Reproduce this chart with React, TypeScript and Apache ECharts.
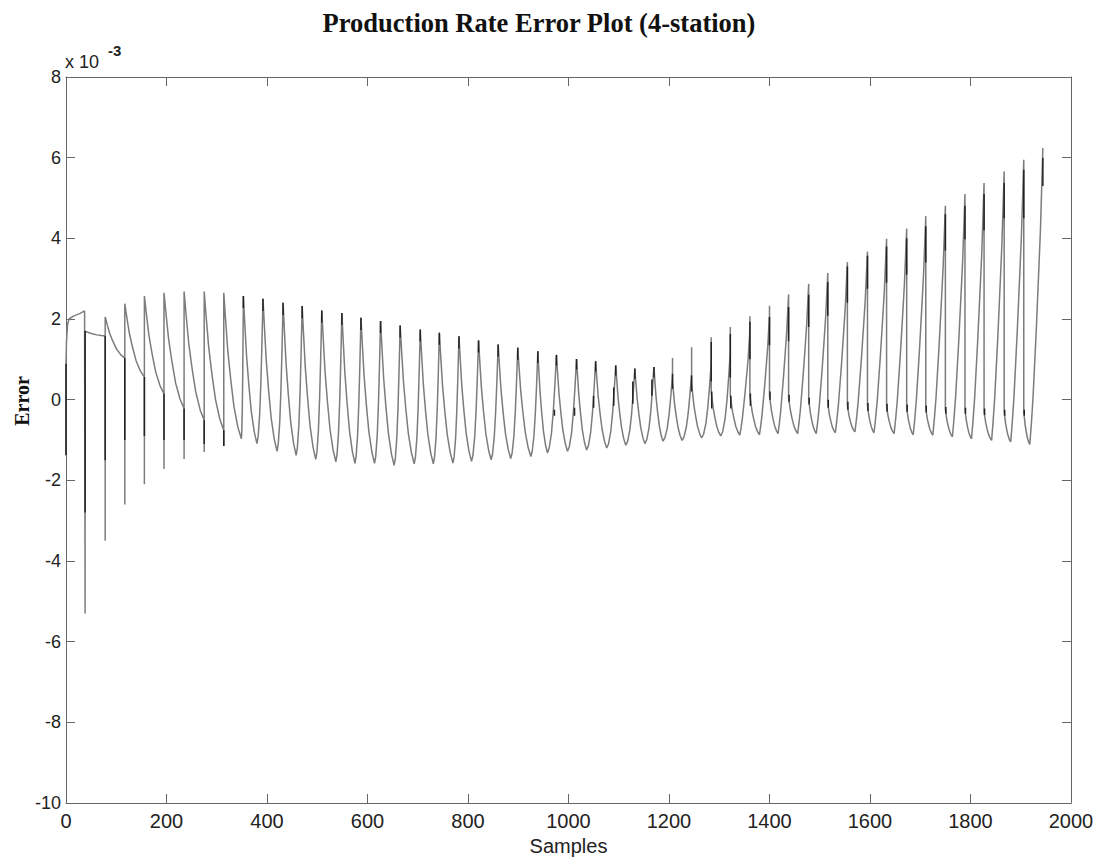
import React, { useEffect, useRef } from "react";
import * as echarts from "echarts";

// Axis ticks (values on the y axis are in units of 1e-3)
const xTicks = [0, 200, 400, 600, 800, 1000, 1200, 1400, 1600, 1800, 2000];
const yTicks = [-10, -8, -6, -4, -2, 0, 2, 4, 6, 8];

// First samples (start-up transient), [sample, error x1e-3]
const startupPoints: [number, number][] = [
  [0, 0.89], [0, -1.38], [0, 0.89], [1, 1.45], [3, 1.85], [6, 2.0],
  [15, 2.07], [28, 2.14], [37, 2.2],
];

// One entry per cycle (cycles 1..50)
const peakPos = [
  38, 78, 117, 156, 195, 235, 275, 314, 353, 392,
  432, 470, 509, 549, 587, 626, 665, 705, 743, 782,
  821, 860, 899, 939, 976, 1016, 1054, 1094, 1132, 1170,
  1207, 1245, 1284, 1322, 1361, 1400, 1438, 1478, 1516, 1555,
  1595, 1633, 1673, 1711, 1750, 1789, 1827, 1867, 1906, 1944,
];
const riseLen = [
  0, 0, 0, 0, 0, 0, 0, 0, 4, 12,
  12, 12, 12, 12, 12, 12, 12, 12, 12, 12,
  14, 14, 14, 14, 18, 18, 18, 18, 18, 18,
  19, 19, 19, 19, 20, 20, 21, 22, 23, 24,
  25, 25, 25, 25, 25, 25, 25, 25, 26, 26,
];
// value reached at the end of the rise (at the peak sample)
const jumpFrom = [
  2.21, 1.58, 1.03, 0.56, 0.15, -0.22, -0.51, -0.76, 2.57, 2.5,
  2.4, 2.32, 2.21, 2.15, 2.03, 1.95, 1.84, 1.74, 1.66, 1.57,
  1.47, 1.37, 1.29, 1.2, 1.11, 1.01, 0.95, 0.85, 0.77, 0.81,
  0.6, 0.65, 0.9, 1.2, 1.7, 2.1, 2.61, 2.87, 3.14, 3.41,
  3.67, 3.99, 4.24, 4.55, 4.81, 5.1, 5.37, 5.66, 5.95, 6.24,
];
// extreme value of the vertical spike at the peak sample
const jumpVia = [
  -5.3, -3.5, -2.6, -2.1, -1.72, -1.47, -1.3, -1.15, 2.57, 2.5,
  2.4, 2.32, 2.21, 2.15, 2.03, 1.95, 1.84, 1.74, 1.66, 1.57,
  1.47, 1.37, 1.29, 1.2, 1.11, 1.01, 0.95, 0.85, 0.77, 0.81,
  1.03, 1.3, 1.55, 1.8, 2.07, 2.33, 2.61, 2.87, 3.14, 3.41,
  3.67, 3.99, 4.24, 4.55, 4.81, 5.1, 5.37, 5.66, 5.95, 6.24,
];
// value where the decay starts
const jumpTo = [
  1.7, 2.05, 2.38, 2.57, 2.65, 2.68, 2.68, 2.65, 2.57, 2.5,
  2.4, 2.32, 2.21, 2.15, 2.03, 1.95, 1.84, 1.74, 1.66, 1.57,
  1.47, 1.37, 1.29, 1.2, 1.11, 1.01, 0.95, 0.85, 0.77, 0.81,
  0.45, 0.4, 0.2, 0.1, 0.1, 0.1, 0.05, 0.0, -0.1, -0.15,
  -0.15, -0.17, -0.2, -0.22, -0.25, -0.25, -0.3, -0.3, -0.3, 6.24,
];
// trough reached after each cycle (cycles 1..49)
const troughAfter = [
  1.58, 1.03, 0.56, 0.15, -0.22, -0.51, -0.76, -0.97, -1.09, -1.28,
  -1.38, -1.48, -1.54, -1.58, -1.58, -1.63, -1.59, -1.59, -1.57, -1.53,
  -1.49, -1.46, -1.41, -1.32, -1.28, -1.25, -1.2, -1.13, -1.09, -1.03,
  -1.01, -0.95, -0.9, -0.88, -0.87, -0.84, -0.84, -0.84, -0.82, -0.8,
  -0.82, -0.84, -0.87, -0.88, -0.92, -0.97, -1.01, -1.05, -1.11,
];
// darker (overdrawn) stretch of each spike, cycles 0..50
const darkLow = [
  -1.38, -2.8, -1.5, -1.0, -0.9, -1.0, -1.0, -1.1, -1.15, 2.27,
  2.2, 2.1, 2.02, 1.91, 1.85, 1.73, 1.65, 1.54, 1.44, 1.36,
  1.27, 1.17, 1.07, 0.99, 0.9, 0.85, 0.75, 0.7, 0.6, 0.52,
  0.55, 0.27, 0.2, 0.45, 0.55, 1.0, 1.35, 1.45, 1.8, 2.08,
  2.4, 2.75, 2.9, 3.1, 3.4, 3.7, 3.98, 4.2, 4.5, 4.5, 5.3,
];
const darkHigh = [
  0.89, 1.7, 1.58, 1.03, 0.56, 0.15, -0.22, -0.51, -0.76, 2.57,
  2.5, 2.4, 2.32, 2.21, 2.15, 2.03, 1.95, 1.84, 1.74, 1.66,
  1.57, 1.47, 1.37, 1.29, 1.2, 1.11, 1.01, 0.95, 0.85, 0.77,
  0.81, 0.64, 0.6, 1.43, 1.63, 1.93, 2.05, 2.3, 2.6, 2.92,
  3.3, 3.57, 3.8, 4.0, 4.3, 4.6, 4.81, 5.1, 5.37, 5.7, 6.0,
];
// small dark marks on the edges of later cycles
const blobPos = [
  972, 1012, 1050, 1090, 1128, 1166, 1285, 1323, 1362, 1401,
  1439, 1479, 1517, 1556, 1596, 1634, 1674, 1712, 1751, 1790,
  1828, 1868, 1907,
];
const blobLow = [
  -0.4, -0.4, -0.2, -0.15, -0.1, 0.1, -0.22, -0.22, -0.15, 0.0,
  -0.05, -0.12, -0.2, -0.25, -0.28, -0.3, -0.3, -0.32, -0.35, -0.35,
  -0.38, -0.4, -0.4,
];
const blobHigh = [
  -0.25, -0.2, 0.1, 0.3, 0.45, 0.5, 0.2, 0.1, 0.15, 0.2,
  0.12, 0.05, 0.0, -0.05, -0.08, -0.1, -0.12, -0.15, -0.18, -0.2,
  -0.22, -0.25, -0.25,
];

const riseSteepF = [0.2, 0.45, 0.65, 0.82];
const riseSteepG = [0.05, 0.2, 0.42, 0.68];
const riseLinF = [0.12, 0.25, 0.5, 0.7, 0.82];
const riseLinG = [0.07, 0.16, 0.39, 0.6, 0.73];
const decayF = [0.1, 0.23, 0.4, 0.58, 0.8, 1];
const decayG = [0.82, 0.6, 0.4, 0.22, 0.08, 0];

function buildLine() {
  const pts: (number | string)[][] = startupPoints.map((p) => [p[0], p[1]]);
  let prevT = startupPoints[startupPoints.length - 1][1];
  for (let k = 0; k < peakPos.length; k++) {
    const p = peakPos[k];
    const r = riseLen[k];
    if (r > 0) {
      const t0 = p - r;
      const lin = k >= 34;
      const F = lin ? riseLinF : riseSteepF;
      const G = lin ? riseLinG : riseSteepG;
      for (let i = 0; i < F.length; i++) {
        pts.push([t0 + F[i] * r, prevT + G[i] * (jumpFrom[k] - prevT)]);
      }
    }
    pts.push([p, jumpFrom[k]], [p, jumpVia[k]], [p, jumpTo[k]]);
    if (k < troughAfter.length) {
      const tNext = peakPos[k + 1] - riseLen[k + 1];
      const d = tNext - p;
      for (let i = 0; i < decayF.length; i++) {
        pts.push([p + decayF[i] * d, troughAfter[k] + decayG[i] * (jumpTo[k] - troughAfter[k])]);
      }
      prevT = troughAfter[k];
    }
  }
  return pts;
}

function buildDark() {
  const pts: (number | string)[][] = [];
  const pos = [0, ...peakPos];
  for (let i = 0; i < pos.length; i++) {
    pts.push([pos[i], darkLow[i]], [pos[i], darkHigh[i]], [pos[i], "-"]);
  }
  for (let i = 0; i < blobPos.length; i++) {
    pts.push([blobPos[i], blobLow[i]], [blobPos[i], blobHigh[i]], [blobPos[i], "-"]);
  }
  return pts;
}

export default function App() {
  const ref = useRef<HTMLDivElement>(null);
  useEffect(() => {
    const chart = echarts.init(ref.current!, null, { renderer: "svg" });
    const axisColor = "#666";
    const sans = "Liberation Sans, Arial, sans-serif";
    const serif = "Liberation Serif, Times New Roman, serif";
    chart.setOption({
      animation: false,
      backgroundColor: "#fff",
      grid: { left: 66, right: 37, top: 77, bottom: 56, containLabel: false },
      graphic: [
        {
          type: "text",
          x: 539,
          y: 23,
          style: {
            text: "Production Rate Error Plot (4-station)",
            font: `bold 26.5px ${serif}`,
            fill: "#111",
            textAlign: "center",
            textVerticalAlign: "middle",
          },
        },
        {
          type: "text",
          x: 22,
          y: 401,
          rotation: Math.PI / 2,
          style: {
            text: "Error",
            font: `bold 20px ${serif}`,
            fill: "#111",
            textAlign: "center",
            textVerticalAlign: "middle",
          },
        },
        {
          type: "text",
          x: 65,
          y: 62,
          style: {
            text: "x 10",
            font: `18px ${sans}`,
            fill: "#222",
            textAlign: "left",
            textVerticalAlign: "middle",
          },
        },
        {
          type: "text",
          x: 108,
          y: 50,
          style: {
            text: "-3",
            font: `bold 15px ${sans}`,
            fill: "#222",
            textAlign: "left",
            textVerticalAlign: "middle",
          },
        },
      ],
      xAxis: [
        {
          type: "value",
          min: xTicks[0],
          max: xTicks[xTicks.length - 1],
          interval: 200,
          position: "bottom",
          axisLine: { show: true, onZero: false, lineStyle: { color: axisColor, width: 1 } },
          axisTick: { show: true, inside: true, length: 9, lineStyle: { color: axisColor } },
          axisLabel: {
            color: "#222",
            fontSize: 20,
            fontFamily: sans,
            margin: 8,
            formatter: (v: number) => String(v),
          },
          splitLine: { show: false },
          name: "Samples",
          nameLocation: "middle",
          nameGap: 33,
          nameTextStyle: { color: "#222", fontSize: 20, fontFamily: sans },
        },
        {
          type: "value",
          min: xTicks[0],
          max: xTicks[xTicks.length - 1],
          interval: 200,
          position: "top",
          axisLine: { show: true, onZero: false, lineStyle: { color: axisColor, width: 1 } },
          axisTick: { show: true, inside: true, length: 9, lineStyle: { color: axisColor } },
          axisLabel: { show: false },
          splitLine: { show: false },
        },
      ],
      yAxis: [
        {
          type: "value",
          min: yTicks[0],
          max: yTicks[yTicks.length - 1],
          interval: 2,
          position: "left",
          axisLine: { show: true, onZero: false, lineStyle: { color: axisColor, width: 1 } },
          axisTick: { show: true, inside: true, length: 9, lineStyle: { color: axisColor } },
          axisLabel: {
            color: "#222",
            fontSize: 18,
            fontFamily: sans,
            margin: 5,
            formatter: (v: number) => String(v),
          },
          splitLine: { show: false },
        },
        {
          type: "value",
          min: yTicks[0],
          max: yTicks[yTicks.length - 1],
          interval: 2,
          position: "right",
          axisLine: { show: true, onZero: false, lineStyle: { color: axisColor, width: 1 } },
          axisTick: { show: true, inside: true, length: 9, lineStyle: { color: axisColor } },
          axisLabel: { show: false },
          splitLine: { show: false },
        },
      ],
      series: [
        {
          type: "line",
          name: "Error",
          xAxisIndex: 0,
          yAxisIndex: 0,
          data: buildLine(),
          showSymbol: false,
          symbol: "none",
          silent: true,
          lineStyle: { color: "#7c7c7c", width: 1.5 },
        },
        {
          type: "line",
          name: "Spikes",
          xAxisIndex: 0,
          yAxisIndex: 0,
          data: buildDark(),
          connectNulls: false,
          showSymbol: false,
          symbol: "none",
          silent: true,
          lineStyle: { color: "#222", width: 1.5 },
        },
      ],
    });
    return () => chart.dispose();
  }, []);
  return (
    <div
      ref={ref}
      style={{ position: "fixed", left: 0, top: 0, width: 1108, height: 861, background: "#fff" }}
    />
  );
}
